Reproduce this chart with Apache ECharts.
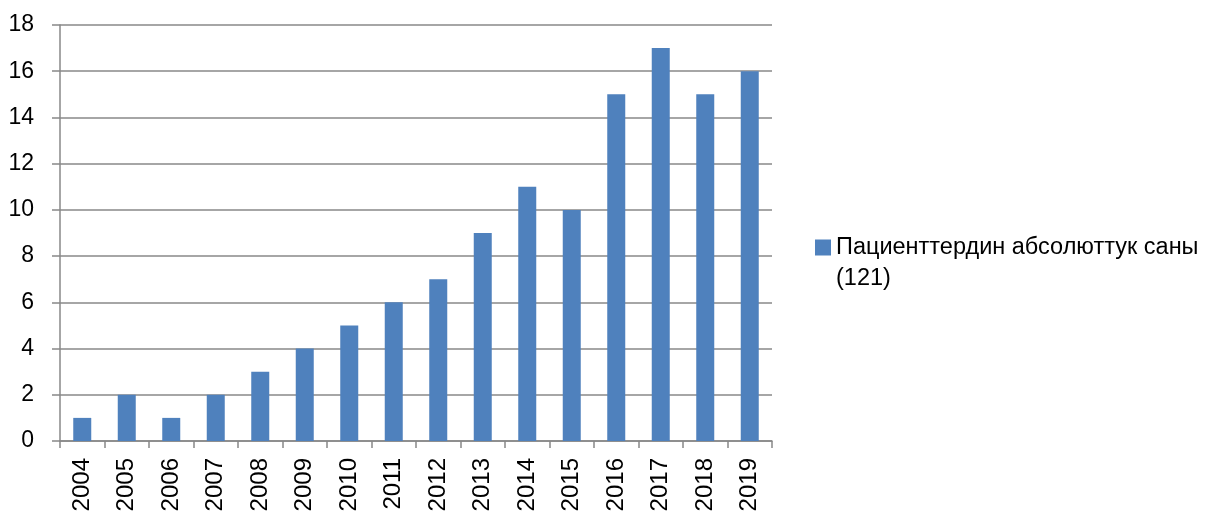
<!DOCTYPE html>
<html>
<head>
<meta charset="utf-8">
<script src="https://cdn.jsdelivr.net/npm/echarts@6/dist/echarts.min.js"></script>
<style>
  html, body { margin: 0; padding: 0; background: #fff; }
  #chart { width: 1213px; height: 511px; }
</style>
</head>
<body>
<div id="chart"></div>
<script>
// Yearly patient counts
const years = ['2004', '2005', '2006', '2007', '2008', '2009', '2010', '2011',
               '2012', '2013', '2014', '2015', '2016', '2017', '2018', '2019'];
const patients = [1, 2, 1, 2, 3, 4, 5, 6, 7, 9, 11, 10, 15, 17, 15, 16];
const seriesName = 'Пациенттердин абсолюттук саны\n(121)';
const yTicks = [0, 2, 4, 6, 8, 10, 12, 14, 16, 18];

const FONT = '"Liberation Sans", Arial, sans-serif';
const GRID_COLOR = '#888888';

const chart = echarts.init(document.getElementById('chart'), null, { renderer: 'canvas' });

chart.setOption({
  backgroundColor: '#ffffff',
  animation: false,
  textStyle: { fontFamily: FONT, color: '#000' },
  grid: {
    left: 60, right: 441, top: 25, bottom: 70,
    containLabel: false,
    // the year labels run off the bottom edge; keep the plot size fixed
    outerBoundsMode: 'none'
  },
  legend: {
    orient: 'vertical',
    left: 815,
    top: 201,
    padding: 0,
    icon: 'rect',
    itemWidth: 16,
    itemHeight: 16,
    itemGap: 0,
    data: [seriesName],
    // an empty first line keeps the swatch level with the first text line
    formatter: name => '\n' + name,
    textStyle: {
      fontFamily: FONT,
      fontSize: 23.5,
      color: '#000',
      lineHeight: 31
    }
  },
  xAxis: {
    type: 'category',
    data: years,
    boundaryGap: true,
    axisLine: { show: true, lineStyle: { color: GRID_COLOR, width: 1.5 } },
    axisTick: { show: true, length: 7, lineStyle: { color: GRID_COLOR, width: 1.5 } },
    axisLabel: {
      rotate: 90,
      margin: 17,
      fontSize: 24,
      fontFamily: FONT,
      color: '#000'
    },
    splitLine: { show: false }
  },
  yAxis: {
    type: 'value',
    min: yTicks[0],
    max: yTicks[yTicks.length - 1],
    interval: yTicks[1] - yTicks[0],
    axisLine: { show: true, lineStyle: { color: GRID_COLOR, width: 1.5 } },
    axisTick: { show: true, length: 8, lineStyle: { color: GRID_COLOR, width: 1.5 } },
    axisLabel: {
      margin: 26,
      fontSize: 23,
      fontFamily: FONT,
      color: '#000'
    },
    splitLine: { show: true, lineStyle: { color: GRID_COLOR, width: 1.5 } }
  },
  series: [{
    name: seriesName,
    type: 'bar',
    data: patients,
    barWidth: 18,
    itemStyle: { color: '#4F81BD' }
  }]
});
</script>
</body>
</html>
